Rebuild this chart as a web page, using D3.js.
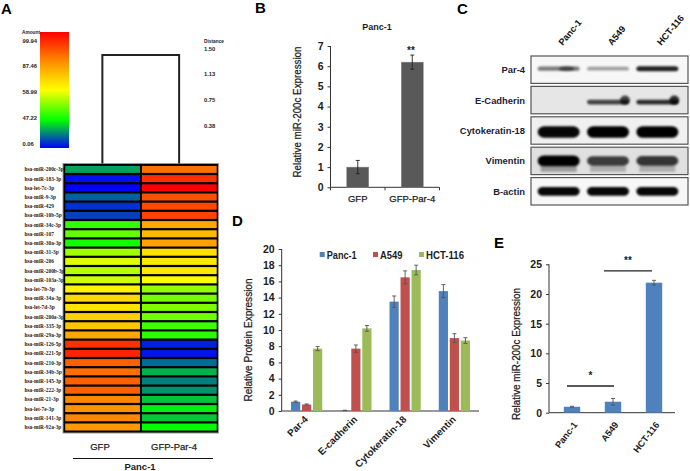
<!DOCTYPE html>
<html><head><meta charset="utf-8">
<script src="https://cdn.jsdelivr.net/npm/d3@7/dist/d3.min.js"></script>
<style>html,body{margin:0;padding:0;background:#fff}svg{display:block}text{font-family:"Liberation Sans",Arial,sans-serif}</style>
</head><body><svg id="c" width="690" height="471"></svg>
<script>
// ---------- data ----------
const miRNAs = ["hsa-miR-200c-3p","hsa-miR-183-3p","hsa-let-7c-3p","hsa-miR-9-3p","hsa-miR-429","hsa-miR-10b-5p","hsa-miR-34c-3p","hsa-miR-107","hsa-miR-30a-3p","hsa-miR-31-3p","hsa-miR-206","hsa-miR-200b-3p","hsa-miR-103a-3p","hsa-let-7b-3p","hsa-miR-34a-3p","hsa-let-7d-3p","hsa-miR-200a-3p","hsa-miR-335-3p","hsa-miR-29a-3p","hsa-miR-126-5p","hsa-miR-221-5p","hsa-miR-210-3p","hsa-miR-34b-3p","hsa-miR-145-3p","hsa-miR-222-3p","hsa-miR-21-3p","hsa-let-7e-3p","hsa-miR-141-3p","hsa-miR-92a-3p"];
const heatGFP = [30,3,0.5,18,9,12,49.5,51.7,48,54.6,57.5,55.7,56.8,61.7,70,67,72,75,83,96,97,92,91,92,92,89,88,89,87.5];
const heatPar4 = [90.8,96,99.9,93.5,94,94.5,83,78.6,85,68,65,65,59,54,52.7,53,52.4,50,49,6,4,20,33,24,27,36,44,37,47];
const heatCols = ["GFP","GFP-Par-4"];
const amountTicks = ["99.94","87.46","58.99","47.22","0.06"];
const amountStops = [0.06,47.22,58.99,87.46,99.94];
const amountColors = ["#0000ff","#00ff00","#ffff00","#ff9900","#ff0000"];
const distanceTicks = ["1.50","1.13","0.75","0.38"];

const bCats = ["GFP","GFP-Par-4"];
const bVals = [1,6.2];
const bErrs = [0.33,0.35];

const blotProteins = ["Par-4","E-Cadherin","Cytokeratin-18","Vimentin","B-actin"];
const blotLanes = ["Panc-1","A549","HCT-116"];
const blotPanc = [0.5,0.0,0.95,1,0.95];
const blotA549 = [0.35,0.7,1,0.72,0.95];
const blotHCT = [0.85,0.8,1,0.75,0.95];
const blotBackground = [0.97,0.9,0.94,0.88,0.97];

const dCats = ["Par-4","E-cadherin","Cytokeratin-18","Vimentin"];
const dSeries = ["Panc-1","A549","HCT-116"];
const dPanc = [1.15,0.07,13.5,14.8];
const dA549 = [0.8,7.7,16.5,9];
const dHCT = [7.7,10.2,17.4,8.7];
const dPancErr = [0.08,0.03,0.7,0.8];
const dA549Err = [0.07,0.45,0.8,0.55];
const dHCTErr = [0.25,0.35,0.6,0.35];

const eCats = ["Panc-1","A549","HCT-116"];
const eVals = [1,1.85,21.9];
const eErrs = [0.08,0.55,0.4];
// ---------- drawing ----------
const svg = d3.select("#c");
const defs = svg.append("defs");
const TXT = "#1c1c1c";
function label(x,y,t,o={}){
  const s = svg.append("text").attr("x",x).attr("y",y).text(t)
    .attr("font-size",o.size||10).attr("fill",o.fill||TXT)
    .attr("font-weight",o.weight||"normal").attr("text-anchor",o.anchor||"start");
  if(o.family) s.style("font-family",o.family);
  if(o.heavy) s.attr("stroke",o.fill||TXT).attr("stroke-width",o.heavy);
  if(o.rot!==undefined) s.attr("transform",`rotate(${o.rot},${x},${y})`);
  if(o.stretch) s.attr("textLength",o.stretch).attr("lengthAdjust","spacingAndGlyphs");
  return s;
}
[["A",1,14],["B",255,13],["C",457,14],["D",232,226],["E",494,248]].forEach(d=>label(d[1],d[2],d[0],{size:15,weight:"bold",fill:"#000"}));

// Panel A
const heatColor = d3.scaleLinear().domain(amountStops).range(amountColors);
const hx = d3.scaleBand().domain(heatCols).range([64,217.5]);
const hy = d3.scaleBand().domain(miRNAs).range([164.7,431.5]);
svg.append("rect").attr("x",63).attr("y",163.5).attr("width",155.5).attr("height",269.5).attr("fill","#000").attr("stroke","#999").attr("stroke-width",1);
const rows = svg.append("g");
miRNAs.forEach((m,i)=>{
  [heatGFP[i],heatPar4[i]].forEach((v,j)=>{
    rows.append("rect").attr("x",hx(heatCols[j])+1.2).attr("y",hy(m)+1.2)
      .attr("width",hx.bandwidth()-2).attr("height",hy.bandwidth()-2.2).attr("fill",heatColor(v));
  });
  label(24.5,hy(m)+hy.bandwidth()/2+2,m,{size:5.4,weight:"bold",family:"'Liberation Serif',serif",fill:"#222"});
});
// dendrogram
const distY = d3.scaleLinear().domain([0,1.5]).range([163.5,55]);
const c0 = hx(heatCols[0])+hx.bandwidth()/2, c1 = hx(heatCols[1])+hx.bandwidth()/2;
svg.append("path").attr("d",d3.line()([[c0,distY(0)],[c0,distY(1.5)],[c1,distY(1.5)],[c1,distY(0)]]))
  .attr("fill","none").attr("stroke","#222").attr("stroke-width",2);
label(204,42.5,"Distance",{size:5.8,weight:"bold",stretch:20,fill:"#222"});
distanceTicks.forEach((t,i)=>label(204,[50.5,76,102,128][i],t,{size:5.8,weight:"bold",fill:"#222"}));
// amount legend
const grad = defs.append("linearGradient").attr("id","amt").attr("x1",0).attr("x2",0).attr("y1",1).attr("y2",0);
[[0,0],[0.24,1],[0.5,2],[0.72,3],[1,4]].forEach(d=>grad.append("stop").attr("offset",d[0]).attr("stop-color",amountColors[d[1]]));
svg.append("rect").attr("x",40).attr("y",32).attr("width",29).attr("height",116).attr("fill","url(#amt)");
label(22,34,"Amount",{size:5.8,weight:"bold",stretch:18,fill:"#222"});
amountTicks.forEach((t,i)=>label(22.5,[42.5,68,93.5,119.5,145.5][i],t,{size:5.8,weight:"bold",fill:"#222"}));
label(100,450,"GFP",{size:9.5,anchor:"middle",heavy:0.25});
label(174,450,"GFP-Par-4",{size:9.5,anchor:"middle",heavy:0.25});
svg.append("line").attr("x1",73).attr("x2",213).attr("y1",458.5).attr("y2",458.5).attr("stroke","#111").attr("stroke-width",1.2);
label(140,469.5,"Panc-1",{size:9.5,anchor:"middle",weight:"bold"});

// generic bar helpers
function yAxis(scale,x,ticks,size){
  const g = svg.append("g").attr("transform",`translate(${x},0)`).call(d3.axisLeft(scale).tickValues(ticks).tickSize(3).tickPadding(4).tickFormat(d3.format("d")));
  g.selectAll("path,line").attr("stroke","#333").attr("stroke-width",1);
  g.select(".domain").attr("d",`M0,${scale.range()[0]}V${scale.range()[1]}`);
  g.selectAll("text").attr("font-size",size).attr("font-weight","bold").attr("fill",TXT).style("font-family",'"Liberation Sans",Arial,sans-serif');
  return g;
}
function errBar(x,yv,e,y,cap,col){
  const p = d3.path();
  p.moveTo(x,y(yv-e));p.lineTo(x,y(yv+e));
  p.moveTo(x-cap,y(yv-e));p.lineTo(x+cap,y(yv-e));
  p.moveTo(x-cap,y(yv+e));p.lineTo(x+cap,y(yv+e));
  svg.append("path").attr("d",p.toString()).attr("stroke",col).attr("stroke-width",0.9).attr("fill","none");
}

// Panel B
label(377,30,"Panc-1",{size:9,anchor:"middle",weight:"bold"});
const by = d3.scaleLinear().domain([0,7]).range([187.3,46]);
const bx = d3.scaleBand().domain(bCats).range([330.5,439.5]);
yAxis(by,330.5,d3.range(0,8),10.5);
svg.append("path").attr("d",`M330.5,${by(0)}H439.5M${bx("GFP")},${by(0)}v3M${bx("GFP-Par-4")},${by(0)}v3M439.5,${by(0)}v3`).attr("stroke","#333").attr("fill","none");
bCats.forEach((c,i)=>{
  const cx = bx(c)+bx.bandwidth()/2;
  svg.append("rect").attr("x",cx-11).attr("width",22).attr("y",by(bVals[i])).attr("height",by(0)-by(bVals[i])).attr("fill","#595959").attr("stroke","#8a8a8a").attr("stroke-width",0.5);
  errBar(cx,bVals[i],bErrs[i],by,2,"#222");
  label(cx,201.5,c,{size:9.5,anchor:"middle",heavy:0.25});
});
label(411,54,"**",{size:10,anchor:"middle",weight:"bold"});
label(301,112,"Relative miR-200c  Expression",{size:10.5,anchor:"middle",rot:-90,stretch:131,heavy:0.25});

// Panel C
const laneX = d3.scaleBand().domain(blotLanes).range([534,682]);
const blotY = d3.scaleBand().domain(blotProteins).range([55,207]);
defs.append("filter").attr("id","blur").attr("x","-30%").attr("y","-80%").attr("width","160%").attr("height","260%").append("feGaussianBlur").attr("stdDeviation",1.3);
const blotG = svg.append("g");
const thick = [3,3,6.5,6,5];
blotProteins.forEach((p,r)=>{
  const y0 = blotY(p)+1, h = blotY.bandwidth()-3;
  const shade = Math.round(blotBackground[r]*255);
  defs.append("clipPath").attr("id","clip"+r).append("rect").attr("x",531).attr("y",y0).attr("width",157).attr("height",h);
  blotG.append("rect").attr("x",531).attr("y",y0).attr("width",157).attr("height",h).attr("fill",d3.rgb(shade,shade,shade));
  const g = blotG.append("g").attr("clip-path",`url(#clip${r})`);
  [blotPanc[r],blotA549[r],blotHCT[r]].forEach((v,j)=>{
    if(v<=0) return;
    const cx = laneX(blotLanes[j])+laneX.bandwidth()/2, cy = y0+h/2+(r==1?2:r==2?1.5:0)-(r==0?1:0);
    g.append("rect").attr("x",cx-21).attr("y",cy-thick[r]*(0.5+0.4*v)).attr("width",42).attr("height",thick[r]*(1+0.8*v))
      .attr("rx",thick[r]).attr("fill","#000").attr("opacity",Math.min(1,v*1.02)).attr("filter","url(#blur)");
    if(r==1||(r==0&&j==0)) g.append("ellipse").attr("cx",cx+(r==1?17:8)).attr("cy",cy-(r==1?2:0)).attr("rx",r==1?5:8).attr("ry",r==1?4.5:2.2).attr("fill","#000").attr("opacity",v).attr("filter","url(#blur)");
    if(r==3) g.append("rect").attr("x",cx-18).attr("y",cy+4).attr("width",36).attr("height",7).attr("fill","#000").attr("opacity",v*0.3).attr("filter","url(#blur)");
  });
  blotG.append("rect").attr("x",531).attr("y",y0).attr("width",157).attr("height",h).attr("fill","none").attr("stroke","#555").attr("stroke-width",1.2);
  label(525,y0+h/2+3.5,p,{size:9.4,anchor:"end",weight:"bold",fill:"#1a2238"});
});
blotLanes.forEach(l=>label(laneX(l)+laneX.bandwidth()/2+4,46,l,{size:9.2,rot:-50,fill:"#111",weight:"bold"}));

// Panel D
const dy = d3.scaleLinear().domain([0,20]).range([411,249]);
const dx = d3.scaleBand().domain(dCats).range([282,479]);
const dColors = ["#4f81bd","#c0504d","#9bbb59"];
const dVals = [dPanc,dA549,dHCT], dErrs = [dPancErr,dA549Err,dHCTErr];
const dOff = d3.scaleBand().domain(dSeries).range([-16.5,16.5]);
yAxis(dy,281.7,d3.range(0,21,2),10.5);
svg.append("line").attr("x1",281.7).attr("x2",479).attr("y1",411).attr("y2",411).attr("stroke","#333").attr("stroke-width",1);
dCats.forEach((c,i)=>{
  const cx = dx(c)+dx.bandwidth()/2;
  dSeries.forEach((s,j)=>{
    const bxm = cx+dOff(s)+dOff.bandwidth()/2;
    svg.append("rect").attr("x",bxm-4.6).attr("width",9.2).attr("y",dy(dVals[j][i])).attr("height",dy(0)-dy(dVals[j][i])).attr("fill",dColors[j]);
    errBar(bxm,dVals[j][i],dErrs[j][i],dy,2,"#555");
  });
  label(cx+2,420,c,{size:9.8,anchor:"end",rot:-45,weight:"bold"});
});
const legX = [321.7,375,421];
dSeries.forEach((s,j)=>{
  svg.append("rect").attr("x",legX[j]-2).attr("y",252).attr("width",5).attr("height",5).attr("fill",dColors[j]);
  label(legX[j]+5,258.5,s,{size:10,weight:"bold",stretch:[30,22.5,38][j]});
});
label(252,340,"Relative Protein Expression",{size:10.5,anchor:"middle",rot:-90,stretch:123,heavy:0.25});

// Panel E
const ey = d3.scaleLinear().domain([0,25]).range([412.7,264.3]);
const ex = d3.scaleBand().domain(eCats).range([551.5,674.5]);
yAxis(ey,549,d3.range(0,26,5),10.5);
svg.append("line").attr("x1",549).attr("x2",675).attr("y1",412.7).attr("y2",412.7).attr("stroke","#333");
eCats.forEach((c,i)=>{
  const cx = ex(c)+ex.bandwidth()/2;
  svg.append("rect").attr("x",cx-8.2).attr("width",16.4).attr("y",ey(eVals[i])).attr("height",ey(0)-ey(eVals[i])).attr("fill","#4f81bd");
  errBar(cx,eVals[i],eErrs[i],ey,2,"#555");
  label(cx+6,425,c,{size:9.2,anchor:"end",rot:-52,weight:"bold"});
});
[[567,614,4.5,"*"],[604,652,23.9,"**"]].forEach(d=>{
  svg.append("line").attr("x1",d[0]).attr("x2",d[1]).attr("y1",ey(d[2])).attr("y2",ey(d[2])).attr("stroke","#222").attr("stroke-width",1.3);
  label((d[0]+d[1])/2,ey(d[2])-7,d[3],{size:10,anchor:"middle",weight:"bold"});
});
label(520,354,"Relative miR-200c  Expression",{size:10.5,anchor:"middle",rot:-90,stretch:132,heavy:0.25});
</script></body></html>
